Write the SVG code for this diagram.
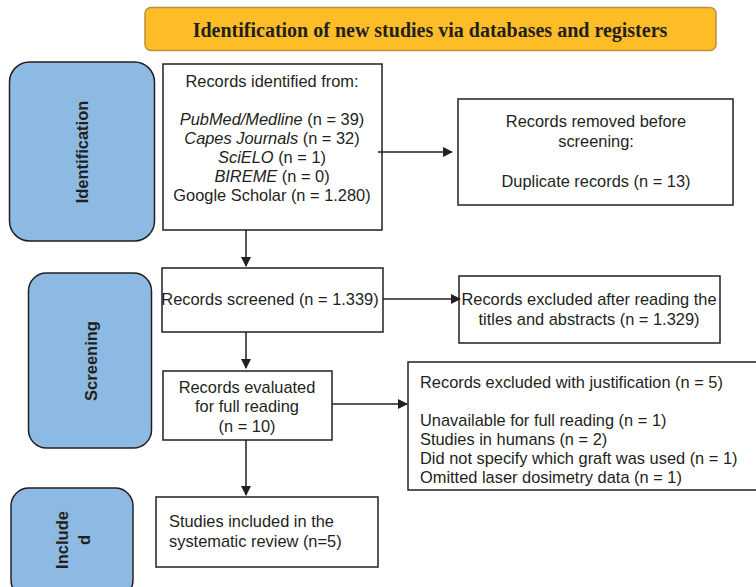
<svg xmlns="http://www.w3.org/2000/svg" width="756" height="587" viewBox="0 0 756 587">
<defs>
<marker id="ah" markerWidth="10" markerHeight="10" refX="9" refY="5" orient="auto" markerUnits="userSpaceOnUse">
<path d="M0,0 L10,5 L0,10 Z" fill="#231F20"/>
</marker>
<style>
.box{fill:#fff;stroke:#231F20;stroke-width:1.5}
.side{fill:#8DBAE2;stroke:#231F20;stroke-width:1.5}
.t{font-family:"Liberation Sans",Arial,sans-serif;font-size:16.4px;fill:#231F20}
.c{text-anchor:middle}
.s{font-family:"Liberation Sans",Arial,sans-serif;font-size:16.5px;font-weight:bold;fill:#231F20;text-anchor:middle}
.conn{stroke:#231F20;stroke-width:1.5;fill:none;marker-end:url(#ah)}
</style>
</defs>
<g id="title">
<rect x="145" y="7.5" width="571" height="43" rx="6" fill="#FDBD26" stroke="#B8913A" stroke-width="1.5"/>
<text x="430" y="37" text-anchor="middle" font-family="'Liberation Serif','Times New Roman',serif" font-size="20" font-weight="bold" fill="#231F20">Identification of new studies via databases and registers</text>
</g>
<g id="side-identification">
<rect class="side" x="9.5" y="62" width="145" height="179" rx="20"/>
<text class="s" transform="translate(88,152) rotate(-90)">Identification</text>
</g>
<g id="side-screening">
<rect class="side" x="28.5" y="273" width="123" height="175" rx="18"/>
<text class="s" transform="translate(97,361) rotate(-90)">Screening</text>
</g>
<g id="side-included">
<rect class="side" x="11" y="488" width="122" height="110" rx="18"/>
<text class="s" transform="translate(68,540) rotate(-90)">Include</text>
<text class="s" transform="translate(90,540) rotate(-90)">d</text>
</g>
<g id="identified">
<rect class="box" x="163" y="64" width="219" height="166"/>
<text class="t c" x="272" y="87">Records identified from:</text>
<text class="t c" x="272" y="125"><tspan font-style="italic">PubMed/Medline</tspan> (n = 39)</text>
<text class="t c" x="272" y="144"><tspan font-style="italic">Capes Journals</tspan> (n = 32)</text>
<text class="t c" x="272" y="163"><tspan font-style="italic">SciELO</tspan> (n = 1)</text>
<text class="t c" x="272" y="182"><tspan font-style="italic">BIREME</tspan> (n = 0)</text>
<text class="t c" x="272" y="201">Google Scholar (n = 1.280)</text>
</g>
<g id="removed">
<rect class="box" x="458" y="99" width="275" height="106"/>
<text class="t c" x="596" y="127">Records removed before</text>
<text class="t c" x="596" y="147">screening:</text>
<text class="t c" x="596" y="187">Duplicate records (n = 13)</text>
</g>
<g id="screened">
<rect class="box" x="162" y="268" width="221" height="64"/>
<text class="t c" x="270" y="305">Records screened (n = 1.339)</text>
</g>
<g id="excluded-abstracts">
<rect class="box" x="459" y="276" width="261" height="67"/>
<text class="t c" x="589" y="305">Records excluded after reading the</text>
<text class="t c" x="589" y="325">titles and abstracts (n = 1.329)</text>
</g>
<g id="evaluated">
<rect class="box" x="163" y="371" width="169" height="69"/>
<text class="t c" x="247" y="393">Records evaluated</text>
<text class="t c" x="247" y="412">for full reading</text>
<text class="t c" x="247" y="432">(n = 10)</text>
</g>
<g id="excluded-justification">
<rect class="box" x="408" y="362" width="352" height="128"/>
<text class="t" x="420" y="388">Records excluded with justification (n = 5)</text>
<text class="t" x="420" y="426">Unavailable for full reading (n = 1)</text>
<text class="t" x="420" y="445">Studies in humans (n = 2)</text>
<text class="t" x="420" y="464">Did not specify which graft was used (n = 1)</text>
<text class="t" x="420" y="483">Omitted laser dosimetry data (n = 1)</text>
</g>
<g id="included">
<rect class="box" x="156" y="497" width="222" height="70"/>
<text class="t" x="169" y="527">Studies included in the</text>
<text class="t" x="169" y="547">systematic review (n=5)</text>
</g>
<g id="connectors">
<path class="conn" d="M378,152 H452"/>
<path class="conn" d="M246,230 V266"/>
<path class="conn" d="M383,299 H460"/>
<path class="conn" d="M246,332 V368"/>
<path class="conn" d="M332,404 H407"/>
<path class="conn" d="M246,440 V495"/>
</g>
</svg>
